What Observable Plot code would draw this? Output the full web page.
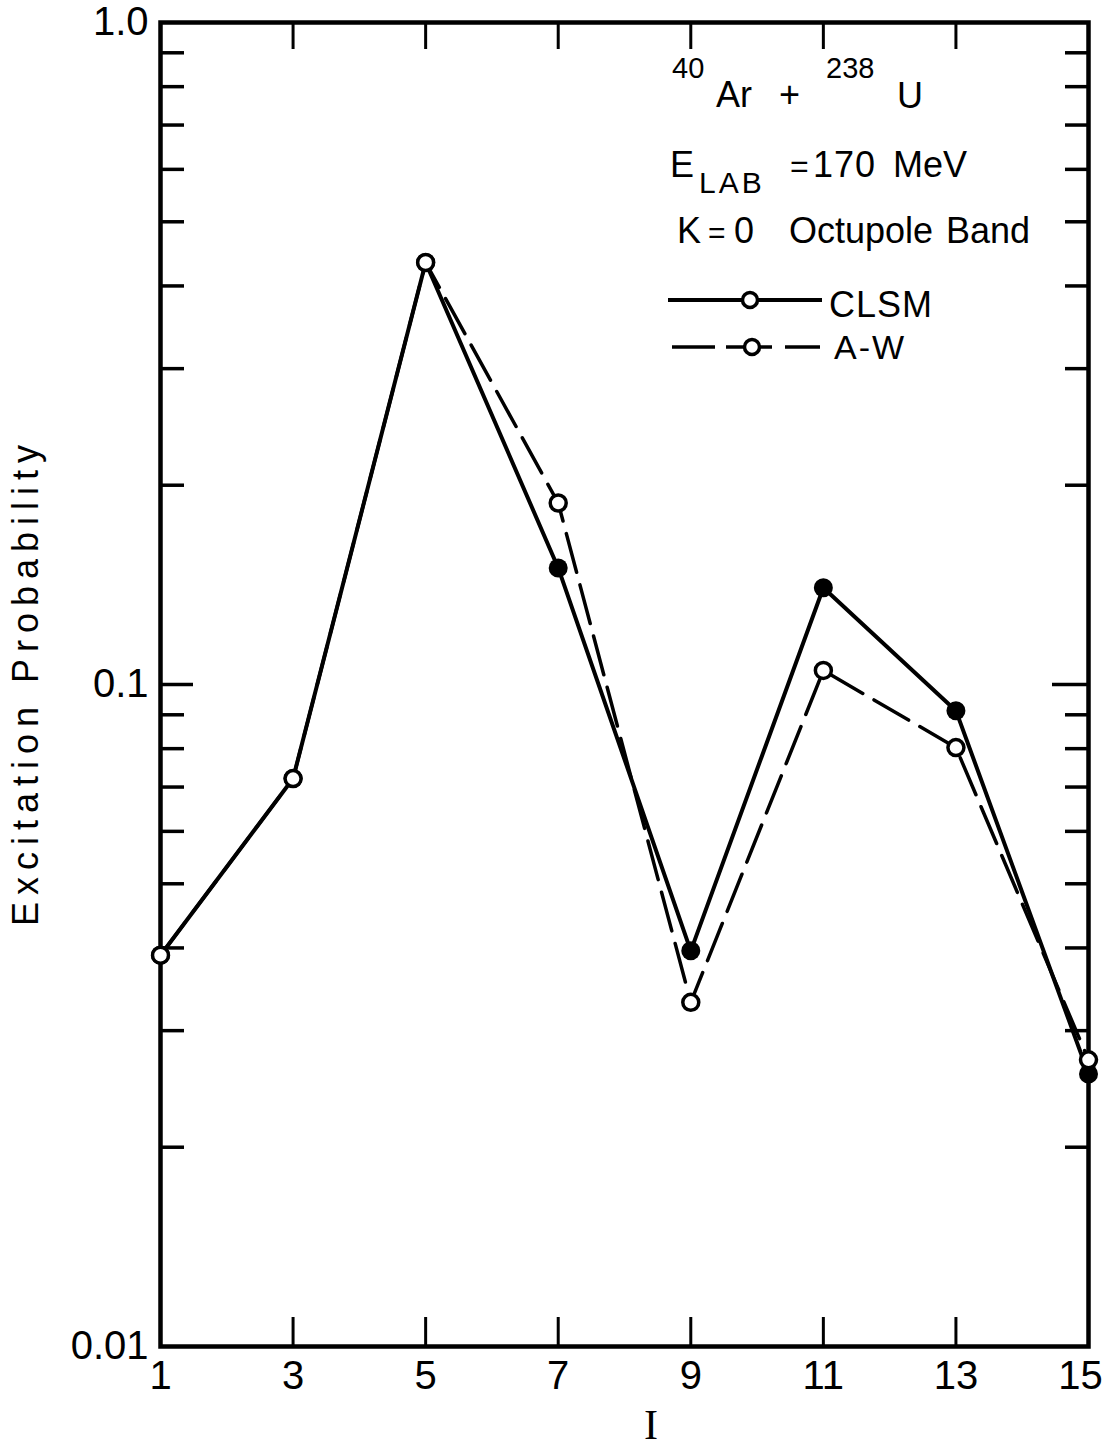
<!DOCTYPE html>
<html><head><meta charset="utf-8">
<script src="https://cdn.jsdelivr.net/npm/d3@7"></script>
<script src="https://cdn.jsdelivr.net/npm/@observablehq/plot@0.6"></script>
<style>
html,body{margin:0;padding:0;background:#fff;}
#chart svg{display:block;}
</style></head><body><div id="chart"></div>
<script>
// ---- data ----
const spin = [1, 3, 5, 7, 9, 11, 13, 15];
const clsm = [0.0390, 0.0721, 0.434, 0.150, 0.0396, 0.140, 0.0913, 0.0258];
const aw   = [0.0390, 0.0721, 0.434, 0.188, 0.0331, 0.105, 0.0803, 0.0271];
const yMajorTicks = [0.01, 0.1, 1];
const yTickLabels = ["0.01", "0.1", "1.0"];
const yMinorTicks = [0.02, 0.03, 0.04, 0.05, 0.06, 0.07, 0.08, 0.09, 0.2, 0.3, 0.4, 0.5, 0.6, 0.7, 0.8, 0.9];
const yMidTicks = [0.1];
const xInnerTicks = [3, 5, 7, 9, 11, 13];
const xLabelsMain = [1, 3, 5, 7, 9, 11, 13];
const xLabelsEdge = [15];
const seriesNames = ["CLSM", "A-W"];

// ---- layout ----
const W = 1109, H = 1449, ML = 160, MR = 21, MT = 22, MB = 103;
const FW = W - ML - MR, FH = H - MT - MB;
const FONT = "'Liberation Sans', Arial, sans-serif";

const clsmData = spin.map((s, i) => ({I: s, p: clsm[i]}));
const awData = spin.map((s, i) => ({I: s, p: aw[i]}));

const chart = Plot.plot({
  width: W, height: H,
  marginLeft: ML, marginRight: MR, marginTop: MT, marginBottom: MB,
  style: {fontFamily: FONT, fontSize: "40px", background: "white", color: "black"},
  x: {domain: [1, 15]},
  y: {type: "log", domain: [0.01, 1]},
  marks: [
    Plot.frame({stroke: "black", strokeWidth: 4.5}),
    // left inward ticks
    Plot.tickY(yMinorTicks, {y: d => d, insetRight: FW - 24, strokeWidth: 3.5}),
    Plot.tickY(yMidTicks, {y: d => d, insetRight: FW - 33, strokeWidth: 3.5}),
    // right inward ticks
    Plot.tickY(yMinorTicks, {y: d => d, insetLeft: FW - 23, strokeWidth: 3.5}),
    Plot.tickY(yMidTicks, {y: d => d, insetLeft: FW - 36, strokeWidth: 3.5}),
    // top and bottom inward ticks
    Plot.tickX(xInnerTicks, {x: d => d, insetBottom: FH - 27, strokeWidth: 3}),
    Plot.tickX(xInnerTicks, {x: d => d, insetTop: FH - 29, strokeWidth: 3}),
    Plot.axisY(yMajorTicks, {tickSize: 0, tickPadding: 12, fontSize: 40,
      tickFormat: d => yTickLabels[yMajorTicks.indexOf(d)], label: null}),
    Plot.axisX(xLabelsMain, {tickSize: 0, tickPadding: 14, fontSize: 40, label: null}),
    Plot.axisX(xLabelsEdge, {tickSize: 0, tickPadding: 14, fontSize: 40, label: null, dx: -8}),
    // series
    Plot.line(awData, {x: "I", y: "p", stroke: "black", strokeWidth: 3.5, strokeDasharray: "40,13"}),
    Plot.line(clsmData, {x: "I", y: "p", stroke: "black", strokeWidth: 4}),
    Plot.dot(clsmData, {x: "I", y: "p", r: 9.5, fill: "black"}),
    Plot.dot(awData, {x: "I", y: "p", r: 8, fill: "white", stroke: "black", strokeWidth: 3.5})
  ]
});
document.getElementById("chart").appendChild(chart);

// ---- annotations ----
const svg = d3.select(chart);
const ann = svg.append("g").attr("font-family", FONT).attr("fill", "black").attr("text-anchor", "start");
function t(txt, x, y, size, opts = {}) {
  const el = ann.append("text").attr("x", x).attr("y", y).attr("font-size", size)
    .attr("text-anchor", opts.anchor || "start").text(txt);
  if (opts.ls != null) el.attr("letter-spacing", opts.ls);
  if (opts.family) el.attr("font-family", opts.family);
  return el;
}
// axis titles
ann.append("text")
  .attr("transform", "translate(25,682) rotate(-90)")
  .attr("text-anchor", "middle").attr("dominant-baseline", "central")
  .attr("font-size", 36).attr("letter-spacing", 7)
  .text("Excitation Probability");
t("I", 651, 1439, 42, {anchor: "middle", family: "'Liberation Serif', 'DejaVu Serif', serif"});

// reaction
t("40", 672, 78, 29);
t("Ar", 716, 107, 36);
t("+", 779, 107, 36);
t("238", 826, 78, 29);
t("U", 897, 108, 36);
// energy
t("E", 670, 177, 36);
t("LAB", 699, 193, 30, {ls: 3});
t("=", 790, 177, 32);
t("170", 813, 177, 36, {ls: 1});
t("MeV", 893, 177, 36);
// band
t("K", 677, 243, 36);
t("=", 708, 243, 30);
t("0", 734, 243, 36);
t("Octupole", 789, 243, 36);
t("Band", 946, 243, 36);

// legend
const lg = svg.append("g").attr("stroke", "black");
lg.append("line").attr("x1", 668).attr("x2", 822).attr("y1", 300).attr("y2", 300).attr("stroke-width", 4);
lg.append("circle").attr("cx", 750).attr("cy", 300).attr("r", 7.5).attr("fill", "white").attr("stroke-width", 3.5);
[[672, 715], [726, 772], [785, 820]].forEach(([a, b]) =>
  lg.append("line").attr("x1", a).attr("x2", b).attr("y1", 347).attr("y2", 347).attr("stroke-width", 3.5));
lg.append("circle").attr("cx", 752).attr("cy", 347).attr("r", 7.5).attr("fill", "white").attr("stroke-width", 3.5);
t(seriesNames[0], 829, 317, 36, {ls: 1});
t(seriesNames[1], 834, 359, 34, {ls: 2});
</script>
</body></html>
